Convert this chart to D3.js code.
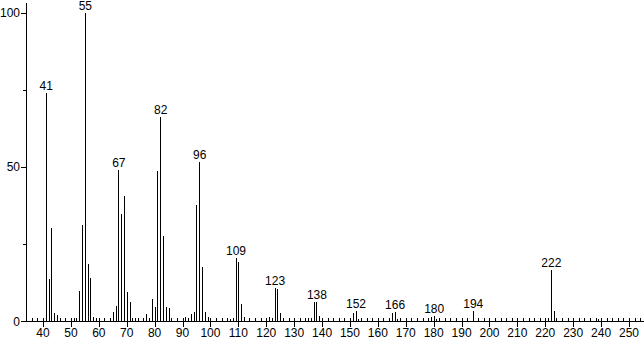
<!DOCTYPE html>
<html>
<head>
<meta charset="utf-8">
<script src="https://cdn.jsdelivr.net/npm/d3@7"></script>
<style>
  body { margin: 0; background: #fff; }
  svg { display: block; }
  text { font-family: "Liberation Sans", Arial, sans-serif; font-size: 12px; fill: #000; }
</style>
</head>
<body>
<div id="chart"></div>
<script>
// m/z values and relative intensities (%)
const masses = [41, 42, 43, 44, 45, 51, 52, 53, 54, 55, 56, 57, 58, 59,
  65, 66, 67, 68, 69, 70, 71, 72, 73, 77, 78, 79, 80, 81, 82, 83, 84, 85, 86,
  91, 93, 94, 95, 96, 97, 98, 99, 100, 107, 108, 109, 110, 111, 112,
  121, 123, 124, 125, 135, 137, 138, 139, 140, 151, 152, 153,
  165, 166, 167, 179, 180, 181, 194, 196, 221, 222, 223, 239, 240];
const intensities = [74, 13.6, 30, 2.6, 2, 1, 0.7, 9.7, 31, 100, 18.4, 14, 1.3, 1,
  3, 5, 49, 34.6, 40.5, 9.4, 6, 1, 1, 2.4, 1, 7, 4.6, 48.5, 66, 27.5, 4.6, 4.2, 1,
  1.3, 2.2, 3, 37.5, 51.5, 17.5, 3, 1.3, 0.7, 0.7, 1, 20.4, 19, 5.5, 1.3,
  1.3, 10.7, 10.4, 2.5, 1, 6, 6.2, 1.5, 0.7, 2.5, 3.3, 0.7,
  2.5, 2.8, 0.7, 1.3, 1.6, 0.5, 3.2, 0.7, 1, 16.5, 3.2, 0.5, 0.7];
const labeledMasses = [41, 55, 67, 82, 96, 109, 123, 138, 152, 166, 180, 194, 222];
const xTickLabels = [40, 50, 60, 70, 80, 90, 100, 110, 120, 130, 140, 150, 160, 170, 180, 190, 200, 210, 220, 230, 240, 250];
const yTickLabels = [0, 50, 100];
const yMinorTicks = [25, 75];

const width = 644, height = 339;
const axisX = 26, baseY = 321;

const peaks = masses.map((m, i) => ({ m: m, v: intensities[i] }));

const svg = d3.select("#chart").append("svg")
  .attr("width", width)
  .attr("height", height)
  .attr("shape-rendering", "crispEdges");

const x = d3.scaleLinear().domain([40, 250]).range([43, 629]);
const y = d3.scaleLinear().domain([0, 100]).range([baseY, 12.5]);
const px = v => Math.round(x(v)) + 0.5;

// axes lines
svg.append("line")
  .attr("x1", axisX + 0.5).attr("x2", axisX + 0.5)
  .attr("y1", 3).attr("y2", baseY + 0.5)
  .attr("stroke", "#000");
svg.append("line")
  .attr("x1", axisX).attr("x2", width)
  .attr("y1", baseY + 0.5).attr("y2", baseY + 0.5)
  .attr("stroke", "#000");

// x minor ticks every 2 units, major every 10
const xMinor = d3.range(36, 256, 2).filter(d => d % 10 !== 0);
svg.append("g").selectAll("line")
  .data(xMinor)
  .join("line")
    .attr("x1", d => px(d)).attr("x2", d => px(d))
    .attr("y1", baseY - 3).attr("y2", baseY + 1)
    .attr("stroke", "#000");
svg.append("g").selectAll("line")
  .data(xTickLabels)
  .join("line")
    .attr("x1", d => px(d)).attr("x2", d => px(d))
    .attr("y1", baseY - 3).attr("y2", baseY + 6)
    .attr("stroke", "#000");
svg.append("g").selectAll("text")
  .data(xTickLabels)
  .join("text")
    .attr("x", d => x(d))
    .attr("y", 337)
    .attr("text-anchor", "middle")
    .text(d => d);

// y ticks
svg.append("g").selectAll("line")
  .data(yTickLabels)
  .join("line")
    .attr("x1", axisX - 5).attr("x2", axisX)
    .attr("y1", d => Math.round(y(d)) + 0.5).attr("y2", d => Math.round(y(d)) + 0.5)
    .attr("stroke", "#000");
svg.append("g").selectAll("line")
  .data(yMinorTicks)
  .join("line")
    .attr("x1", axisX - 3).attr("x2", axisX)
    .attr("y1", d => Math.round(y(d)) + 0.5).attr("y2", d => Math.round(y(d)) + 0.5)
    .attr("stroke", "#000");
svg.append("g").selectAll("text")
  .data(yTickLabels)
  .join("text")
    .attr("x", axisX - 6)
    .attr("y", d => y(d) + 4.5)
    .attr("text-anchor", "end")
    .text(d => d);

// peaks
svg.append("g").selectAll("line")
  .data(peaks)
  .join("line")
    .attr("x1", d => px(d.m)).attr("x2", d => px(d.m))
    .attr("y1", baseY).attr("y2", d => Math.round(y(d.v)))
    .attr("stroke", "#000");

// peak labels
svg.append("g").selectAll("text")
  .data(peaks.filter(d => labeledMasses.includes(d.m)))
  .join("text")
    .attr("x", d => x(d.m) + 0.5)
    .attr("y", d => y(d.v) - 3)
    .attr("text-anchor", "middle")
    .text(d => d.m);
</script>
</body>
</html>
